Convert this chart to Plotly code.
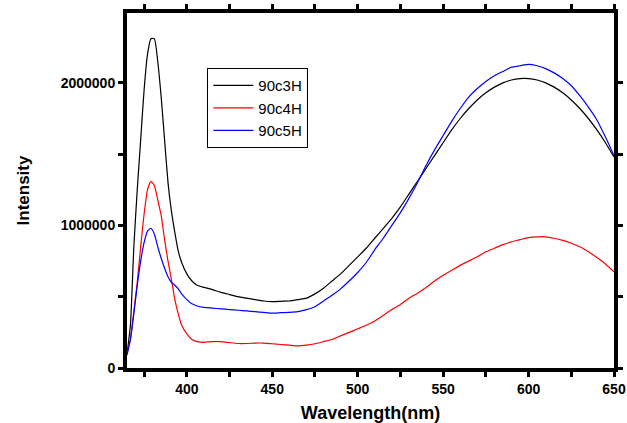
import plotly.graph_objects as go

wavelength = [365, 367, 369, 371, 373, 375, 377, 379, 381, 383, 385, 387, 389, 391, 393, 395, 397,
              400, 403, 406, 410, 415, 420, 425, 430, 435, 440, 445, 450, 455, 460, 465, 470, 475,
              480, 485, 490, 495, 500, 505, 510, 515, 520, 525, 530, 535, 540, 545, 550, 555, 560,
              565, 570, 575, 580, 585, 590, 595, 600, 605, 610, 615, 620, 625, 630, 635, 640, 645, 650]

# Intensity values in millions
s_90c3H = [0.10, 0.30, 0.85, 1.25, 1.60, 1.95, 2.20, 2.31, 2.31, 2.15, 1.90, 1.60, 1.30, 1.10, 0.95, 0.82, 0.74,
           0.66, 0.61, 0.58, 0.565, 0.55, 0.53, 0.515, 0.50, 0.49, 0.48, 0.47, 0.465, 0.468, 0.47, 0.48, 0.49, 0.52,
           0.56, 0.61, 0.66, 0.72, 0.78, 0.84, 0.91, 0.98, 1.05, 1.13, 1.22, 1.31, 1.40, 1.49, 1.58, 1.67, 1.75,
           1.82, 1.88, 1.93, 1.97, 2.00, 2.02, 2.03, 2.03, 2.02, 2.00, 1.97, 1.93, 1.88, 1.82, 1.75, 1.67, 1.58, 1.48]

s_90c4H = [0.10, 0.20, 0.40, 0.60, 0.85, 1.08, 1.25, 1.31, 1.28, 1.18, 1.07, 0.90, 0.75, 0.62, 0.48, 0.38, 0.30,
           0.24, 0.20, 0.185, 0.18, 0.185, 0.185, 0.178, 0.172, 0.172, 0.175, 0.175, 0.17, 0.165, 0.16, 0.155, 0.16, 0.17,
           0.185, 0.20, 0.225, 0.25, 0.275, 0.30, 0.33, 0.37, 0.41, 0.445, 0.49, 0.525, 0.565, 0.61, 0.65, 0.685, 0.72,
           0.75, 0.78, 0.815, 0.84, 0.865, 0.885, 0.90, 0.915, 0.92, 0.92, 0.91, 0.895, 0.875, 0.85, 0.815, 0.775, 0.73, 0.675]

s_90c5H = [0.09, 0.20, 0.38, 0.58, 0.75, 0.88, 0.96, 0.98, 0.94, 0.85, 0.77, 0.70, 0.64, 0.60, 0.58, 0.555, 0.52,
           0.48, 0.45, 0.435, 0.425, 0.42, 0.415, 0.41, 0.405, 0.40, 0.395, 0.39, 0.385, 0.388, 0.39, 0.395, 0.41, 0.43,
           0.47, 0.51, 0.555, 0.61, 0.67, 0.74, 0.83, 0.91, 1.00, 1.09, 1.19, 1.30, 1.42, 1.53, 1.63, 1.73, 1.82,
           1.90, 1.96, 2.01, 2.05, 2.08, 2.11, 2.12, 2.13, 2.12, 2.10, 2.07, 2.03, 1.98, 1.91, 1.83, 1.74, 1.62, 1.49]

series_names = ["90c3H", "90c4H", "90c5H"]
series_colors = ["#000000", "#ff0000", "#0000ff"]
series_values = [s_90c3H, s_90c4H, s_90c5H]

fig = go.Figure()
for name, color, vals in zip(series_names, series_colors, series_values):
    fig.add_trace(go.Scatter(x=wavelength, y=[v * 1e6 for v in vals], mode="lines", name=name,
                             line=dict(color=color, width=1.2, shape="spline", smoothing=0.5)))

font_family = "Liberation Sans, Arial, sans-serif"
fig.update_layout(
    width=627, height=423,
    margin=dict(l=127, r=13, t=13, b=55),
    paper_bgcolor="white", plot_bgcolor="white",
    font=dict(family=font_family, color="black"),
    legend=dict(x=0.165, y=0.845, xanchor="left", yanchor="top",
                bordercolor="black", borderwidth=1, bgcolor="white",
                font=dict(size=15, family=font_family),
                tracegroupgap=0, itemwidth=40),
    showlegend=True,
)
fig.update_xaxes(
    range=[365, 650], tick0=400, dtick=50, automargin=False,
    showline=True, linewidth=4, linecolor="black", mirror="allticks",
    ticks="outside", ticklen=5, tickwidth=2.5, tickcolor="black",
    minor=dict(tick0=375, dtick=50, ticks="outside", ticklen=5, tickwidth=2.5, tickcolor="black"),
    showgrid=False, zeroline=False,
    tickfont=dict(size=14, weight="bold"),
    title=dict(text="Wavelength(nm)", font=dict(size=18, weight="bold"), standoff=14),
)
fig.update_yaxes(
    range=[0, 2.49e6], tick0=0, dtick=1e6, tickformat="d", automargin=False,
    showline=True, linewidth=4, linecolor="black", mirror="allticks",
    ticks="outside", ticklen=5, tickwidth=2.5, tickcolor="black",
    minor=dict(tick0=500000, dtick=1e6, ticks="outside", ticklen=5, tickwidth=2.5, tickcolor="black"),
    showgrid=False, zeroline=False,
    tickfont=dict(size=14, weight="bold"),
    title=dict(text="Intensity", font=dict(size=17, weight="bold"), standoff=28),
)

fig.write_html("out.html", config={"displayModeBar": False},
               post_script="document.body.style.margin='0';document.body.style.overflow='hidden';")
